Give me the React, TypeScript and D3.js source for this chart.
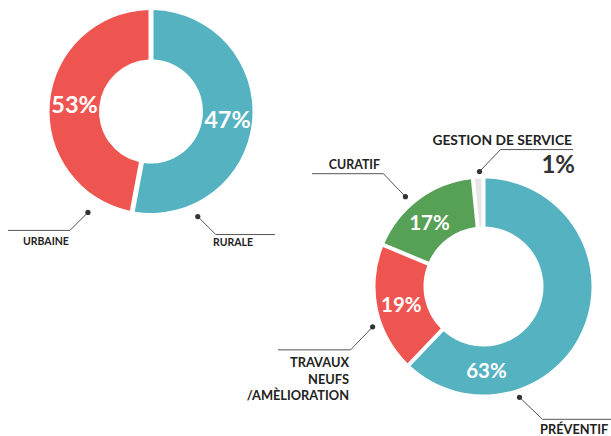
import React from "react";
import * as d3 from "d3";

// ---- Data ----
// Chart 1: zone split (arc sizes as drawn, labels as printed)
const zoneNames = ["RURALE", "URBAINE"];
const zoneShares = [53, 47];
const zoneLabels = ["47%", "53%"];
const zoneColors = ["#55b2c1", "#ee5551"];

// Chart 2: type of intervention
const typeNames = ["PRÉVENTIF", "TRAVAUX NEUFS /AMÈLIORATION", "CURATIF", "GESTION DE SERVICE"];
const typeShares = [63, 19, 17, 1];
const typeLabels = ["63%", "19%", "17%", "1%"];
const typeColors = ["#55b2c1", "#ee5551", "#57a156", "#e6e6e6"];

const W = 611;
const H = 436;
const FONT = "Lato, 'Open Sans', sans-serif";
const deg = Math.PI / 180;

function polar(cx: number, cy: number, r: number, a: number) {
  return [cx + r * Math.sin(a), cy - r * Math.cos(a)];
}

type Callout = {
  dotAngle: number; // degrees
  dotR: number;
  dx: number;
  dy: number;
  lineTo: number;
  lines: string[];
  anchor: "start" | "end";
  textX: number;
  textY: number;
  lineH: number;
  size: number;
};

function Donut(props: {
  cx: number;
  cy: number;
  rOuter: number;
  rInner: number;
  shares: number[];
  colors: string[];
  labels: string[];
  labelSize: number;
  hideLabel?: number[];
  labelAngleOverride?: Record<number, number>;
  padPx: number;
}) {
  const { cx, cy, rOuter, rInner, shares, colors, labels, labelSize } = props;
  const pie = d3
    .pie<number>()
    .sort(null)
    .value((d) => d)
    .startAngle(0)
    .endAngle(2 * Math.PI)
    .padAngle(props.padPx / rOuter);
  const arcs = pie(shares);
  const arc = d3
    .arc<d3.PieArcDatum<number>>()
    .innerRadius(rInner)
    .outerRadius(rOuter)
    .padRadius(rOuter);
  const rMid = (rInner + rOuter) / 2;
  return (
    <g>
      {arcs.map((a, i) => (
        <path key={i} d={arc(a) || ""} transform={`translate(${cx},${cy})`} fill={colors[i]} />
      ))}
      {arcs.map((a, i) => {
        if (props.hideLabel && props.hideLabel.includes(i)) return null;
        const ang =
          props.labelAngleOverride && props.labelAngleOverride[i] !== undefined
            ? props.labelAngleOverride[i] * deg
            : (a.startAngle + a.endAngle) / 2;
        const [x, y] = polar(cx, cy, rMid, ang);
        return (
          <text
            key={"t" + i}
            x={x}
            y={y}
            textAnchor="middle"
            dominantBaseline="central"
            fill="#ffffff"
            fontFamily={FONT}
            fontWeight={700}
            fontSize={labelSize}
          >
            {labels[i]}
          </text>
        );
      })}
    </g>
  );
}

function CalloutMark(props: { cx: number; cy: number; c: Callout }) {
  const { cx, cy, c } = props;
  const [x0, y0] = polar(cx, cy, c.dotR, c.dotAngle * deg);
  const x1 = x0 + c.dx;
  const y1 = y0 + c.dy;
  return (
    <g>
      <polyline
        points={`${x0},${y0} ${x1},${y1} ${c.lineTo},${y1}`}
        fill="none"
        stroke="#555"
        strokeWidth={1}
      />
      <circle cx={x0} cy={y0} r={2.6} fill="#333" />
      {c.lines.map((l, i) => (
        <text
          key={i}
          x={c.textX}
          y={c.textY + i * c.lineH}
          textAnchor={c.anchor}
          fill="#222"
          fontFamily={FONT}
          fontWeight={700}
          fontSize={c.size}
        >
          {l}
        </text>
      ))}
    </g>
  );
}

export default function App() {
  const c1 = { cx: 151, cy: 111.5, ro: 101.5, ri: 52 };
  const c2 = { cx: 483.5, cy: 286.5, ro: 108, ri: 60 };

  const calloutsA: Callout[] = [
    { dotAngle: 212, dotR: 119, dx: -18, dy: 18, lineTo: 8, lines: [zoneNames[1]], anchor: "start", textX: 23, textY: 245, lineH: 0, size: 10.5 },
    { dotAngle: 156, dotR: 115, dx: 18, dy: 18, lineTo: 275, lines: [zoneNames[0]], anchor: "start", textX: 213, textY: 246, lineH: 0, size: 10.5 },
  ];
  const calloutsB: Callout[] = [
    { dotAngle: 162, dotR: 116.5, dx: 23, dy: 22, lineTo: 611, lines: [typeNames[0]], anchor: "start", textX: 540, textY: 434, lineH: 0, size: 12.8 },
    { dotAngle: 250, dotR: 118, dx: -22, dy: 23, lineTo: 278, lines: ["TRAVAUX", "NEUFS", "/AMÈLIORATION"], anchor: "end", textX: 349, textY: 367, lineH: 16.5, size: 12.8 },
    { dotAngle: 319, dotR: 119, dx: -22, dy: -23, lineTo: 312, lines: [typeNames[2]], anchor: "end", textX: 380, textY: 169, lineH: 0, size: 12.4 },
    { dotAngle: 358, dotR: 115, dx: 21, dy: -22, lineTo: 573, lines: [typeNames[3]], anchor: "end", textX: 572, textY: 145, lineH: 0, size: 13.8 },
  ];

  return (
    <svg width={W} height={H} style={{ position: "absolute", left: 0, top: 0, background: "#fff" }}>
      <Donut
        cx={c1.cx}
        cy={c1.cy}
        rOuter={c1.ro}
        rInner={c1.ri}
        shares={zoneShares}
        colors={zoneColors}
        labels={zoneLabels}
        labelSize={23.5}
        padPx={5}
      />
      {calloutsA.map((c, i) => (
        <CalloutMark key={"a" + i} cx={c1.cx} cy={c1.cy} c={c} />
      ))}

      <Donut
        cx={c2.cx}
        cy={c2.cy}
        rOuter={c2.ro}
        rInner={c2.ri}
        shares={typeShares}
        colors={typeColors}
        labels={typeLabels}
        labelSize={20.5}
        hideLabel={[3]}
        labelAngleOverride={{ 0: 178, 2: 320 }}
        padPx={4}
      />
      {calloutsB.map((c, i) => (
        <CalloutMark key={"b" + i} cx={c2.cx} cy={c2.cy} c={c} />
      ))}
      <text
        x={575}
        y={173}
        textAnchor="end"
        fill="#333"
        fontFamily={FONT}
        fontWeight={700}
        fontSize={24}
      >
        {typeLabels[3]}
      </text>
    </svg>
  );
}
